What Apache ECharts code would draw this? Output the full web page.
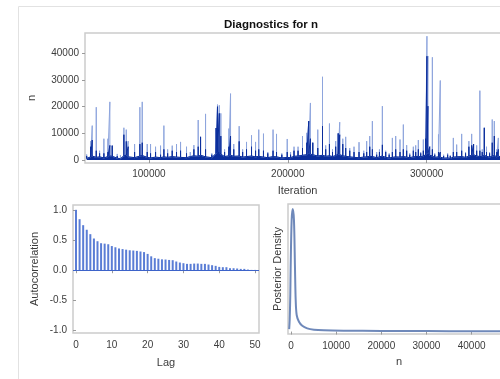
<!DOCTYPE html>
<html>
<head>
<meta charset="utf-8">
<script src="https://cdn.jsdelivr.net/npm/echarts@6/dist/echarts.min.js"></script>
<style>
  html, body { margin: 0; padding: 0; background: #fff; }
  #chart { width: 500px; height: 379px; }
</style>
</head>
<body>
<div id="chart"></div>
<script>
// trace plot: spikes (iteration, top of light line, top of dark body, dense floor)
const spikeIter = [55200, 58100, 59200, 62100, 64500, 67600, 70500, 71900, 73600, 77200, 79500, 82000, 83700, 85100, 89700, 93500, 95200, 98800, 101200, 104800, 108400, 110800, 113500, 116800, 119900, 122800, 127100, 129800, 132400, 135500, 137200, 140800, 145300, 148400, 149400, 150700, 151800, 154500, 157600, 158800, 161100, 165000, 167500, 170300, 173900, 176800, 179100, 182500, 185600, 189400, 191900, 195700, 199600, 202000, 204500, 207400, 210600, 213700, 215100, 216300, 218000, 221600, 225000, 227300, 230000, 232200, 234500, 236300, 237400, 239600, 241700, 244600, 247700, 251300, 254700, 256800, 259000, 260900, 264000, 266000, 268100, 270500, 273000, 275300, 277700, 280800, 283200, 285600, 287800, 290400, 292100, 294000, 295700, 297600, 299300, 300200, 300900, 302200, 304100, 305800, 308500, 309800, 312200, 315100, 317000, 319200, 321600, 325200, 328000, 330400, 332400, 333800, 336000, 338300, 340000, 341500, 343100, 345300, 347200, 348700, 350500, 351600, 355000];
const spikePeak = [2100, 7100, 12900, 19800, 3500, 8000, 8000, 21800, 5400, 2300, 1800, 12100, 11400, 7100, 6000, 19800, 21800, 6000, 6000, 5000, 5400, 12900, 4000, 5400, 6000, 6800, 5000, 3000, 5600, 15000, 8700, 17300, 2500, 12000, 20800, 20500, 17500, 4000, 11800, 24900, 6000, 12700, 4000, 6800, 9300, 6800, 11400, 9900, 3000, 11400, 9800, 2500, 7900, 3000, 5000, 5000, 9000, 10200, 14600, 21400, 6500, 11400, 31200, 5500, 13700, 4000, 7100, 10000, 14200, 8000, 8700, 4500, 5000, 6700, 3500, 7100, 9000, 14600, 3000, 4000, 20200, 3500, 2500, 8300, 9000, 7700, 13300, 5600, 2500, 5000, 5500, 7500, 3000, 7700, 8000, 46400, 39000, 5000, 38500, 2500, 9600, 29800, 2000, 2500, 1800, 8300, 5800, 9800, 3000, 7100, 9800, 6000, 5500, 26000, 4000, 12300, 5000, 3000, 15200, 14600, 4000, 8300, 5000];
const spikeBody = [1500, 5000, 7500, 3500, 2500, 2500, 3000, 5500, 5400, 1500, 1200, 9500, 7000, 5000, 3000, 6000, 6500, 3000, 2500, 3000, 2000, 4000, 2500, 3500, 3000, 3500, 2500, 2000, 4000, 5000, 8700, 4000, 2000, 12000, 20000, 17500, 9000, 3000, 5000, 9000, 4000, 7000, 3000, 4000, 5000, 3500, 4000, 3500, 2500, 3500, 3000, 2000, 3000, 2000, 3500, 3500, 4500, 6500, 14600, 8000, 6500, 4500, 12700, 4000, 6000, 3000, 5000, 10000, 9500, 6000, 4500, 3500, 3000, 3000, 2500, 3000, 5000, 4000, 2000, 3000, 5700, 3000, 2000, 3000, 4000, 3000, 4000, 3500, 2000, 3500, 3000, 4000, 2500, 3500, 8000, 38900, 20200, 5000, 4000, 2000, 3000, 3000, 1500, 2000, 1500, 3000, 3000, 3500, 2500, 5000, 5500, 6000, 3500, 3500, 3000, 12000, 3000, 2500, 6500, 9000, 3000, 4000, 3000];
const spikeBase = [600, 1200, 1500, 1000, 1200, 800, 1300, 1500, 1400, 700, 500, 1600, 1800, 1200, 900, 1500, 1700, 1000, 800, 1100, 900, 1200, 1000, 1300, 1100, 1000, 900, 1300, 1600, 1400, 1800, 1200, 900, 2500, 3000, 3000, 2200, 1300, 1600, 1800, 1400, 1500, 1100, 1300, 1500, 1200, 1400, 1100, 900, 1300, 1200, 800, 1000, 900, 1400, 1500, 1800, 2000, 2400, 2200, 2000, 1500, 1800, 1400, 1600, 1300, 1700, 2200, 2000, 1600, 1400, 1200, 1000, 900, 1100, 1200, 1400, 1300, 900, 1200, 1500, 1000, 800, 1000, 1200, 1100, 1300, 1100, 900, 1200, 1300, 1400, 1200, 1500, 2000, 2500, 2500, 1800, 1500, 1000, 1200, 1100, 700, 800, 600, 1100, 1200, 1300, 1000, 1500, 1800, 2000, 1500, 1300, 1400, 1800, 1400, 1100, 1500, 1700, 1200, 1400, 1200];
const traceTicks = [100000, 200000, 300000];
const nTicks = [0, 10000, 20000, 30000, 40000];

// autocorrelation by lag
const acfLag = [0, 1, 2, 3, 4, 5, 6, 7, 8, 9, 10, 11, 12, 13, 14, 15, 16, 17, 18, 19, 20, 21, 22, 23, 24, 25, 26, 27, 28, 29, 30, 31, 32, 33, 34, 35, 36, 37, 38, 39, 40, 41, 42, 43, 44, 45, 46, 47, 48, 49, 50];
const acfValues = [1.0, 0.845, 0.746, 0.67, 0.597, 0.525, 0.48, 0.447, 0.44, 0.43, 0.40, 0.38, 0.36, 0.35, 0.34, 0.33, 0.326, 0.32, 0.31, 0.30, 0.27, 0.23, 0.20, 0.19, 0.18, 0.177, 0.17, 0.166, 0.144, 0.127, 0.116, 0.105, 0.105, 0.11, 0.11, 0.105, 0.105, 0.094, 0.083, 0.072, 0.055, 0.05, 0.05, 0.033, 0.033, 0.028, 0.022, 0.022, 0.011, 0.005, 0.005];
const lagTicks = [0, 10, 20, 30, 40, 50];
const acfTicks = [-1, -0.5, 0, 0.5, 1];

// posterior density of n
const densityN = [-400, -290, -150, -70, 150, 380, 660, 880, 1040, 1260, 1770, 2500, 3600, 5090, 7300, 11700, 20000, 30000, 40000, 48500];
const densityValues = [0.02, 0.09, 0.3, 0.53, 0.91, 1.0, 0.91, 0.53, 0.26, 0.135, 0.08, 0.047, 0.026, 0.015, 0.01, 0.007, 0.005, 0.004, 0.003, 0.003];
const densityTicks = [0, 10000, 20000, 30000, 40000];

const lightTrace = [];
const darkTrace = [];
spikeIter.forEach((it, i) => {
  lightTrace.push([it, spikeBase[i]], [it, spikePeak[i]], [it, spikeBase[i]]);
  darkTrace.push([it, spikeBase[i]], [it, spikeBody[i]], [it, spikeBase[i]]);
});

const font = "Liberation Sans, Arial, sans-serif";
const labelStyle = { color: "#3c3c3c", fontSize: 10, fontFamily: font };
const nameStyle = { color: "#3c3c3c", fontSize: 11, fontFamily: font };
const tick = { show: true, length: 3, lineStyle: { color: "#9a9a9a" } };
const frame = { show: true, borderColor: "#cccccc", borderWidth: 1.5, outerBoundsMode: "none" };

const chart = echarts.init(document.getElementById("chart"));

const option = {
  animation: false,
  backgroundColor: "#fff",
  title: {
    text: "Diagnostics for n",
    left: 219,
    top: 14,
    textStyle: { fontSize: 11.5, fontWeight: "bold", color: "#111", fontFamily: font },
  },
  graphic: [
    {
      type: "rect",
      silent: true,
      shape: { x: 18.5, y: 6.5, width: 600, height: 600 },
      style: { fill: "none", stroke: "#e2e2e2", lineWidth: 1 },
    },
  ],
  grid: [
    { left: 85, top: 33, width: 425, height: 130, ...frame },
    { left: 73, top: 205, width: 186, height: 128, ...frame },
    { left: 288, top: 204, width: 222, height: 130, ...frame },
  ],
  xAxis: [
    {
      gridIndex: 0,
      type: "value",
      min: 54000,
      max: 360000,
      name: "Iteration",
      nameLocation: "middle",
      nameGap: 22,
      nameTextStyle: nameStyle,
      axisLine: { show: false },
      axisTick: { ...tick, customValues: traceTicks },
      axisLabel: { ...labelStyle, customValues: traceTicks, formatter: (v) => String(v), margin: 6 },
      splitLine: { show: false },
    },
    {
      gridIndex: 1,
      type: "value",
      min: -0.84,
      max: 51.1,
      name: "Lag",
      nameLocation: "middle",
      nameGap: 24,
      nameTextStyle: nameStyle,
      axisLine: { show: false },
      axisTick: { ...tick, customValues: lagTicks },
      axisLabel: { ...labelStyle, customValues: lagTicks, formatter: (v) => String(v), margin: 7 },
      splitLine: { show: false },
    },
    {
      gridIndex: 2,
      type: "value",
      min: -660,
      max: 48500,
      name: "n",
      nameLocation: "middle",
      nameGap: 22,
      nameTextStyle: nameStyle,
      axisLine: { show: false },
      axisTick: { ...tick, customValues: densityTicks },
      axisLabel: { ...labelStyle, customValues: densityTicks, formatter: (v) => String(v), margin: 7 },
      splitLine: { show: false },
    },
  ],
  yAxis: [
    {
      gridIndex: 0,
      type: "value",
      min: -1100,
      max: 47600,
      name: "n",
      nameLocation: "middle",
      nameGap: 48,
      nameRotate: 90,
      nameTextStyle: nameStyle,
      axisLine: { show: false },
      axisTick: { ...tick, customValues: nTicks },
      axisLabel: { ...labelStyle, customValues: nTicks, formatter: (v) => String(v), margin: 6 },
      splitLine: { show: false },
    },
    {
      gridIndex: 1,
      type: "value",
      min: -1.04,
      max: 1.08,
      name: "Autocorrelation",
      nameLocation: "middle",
      nameGap: 33,
      nameRotate: 90,
      nameTextStyle: nameStyle,
      axisLine: { show: false },
      axisTick: { ...tick, customValues: acfTicks },
      axisLabel: { ...labelStyle, customValues: acfTicks, formatter: (v) => v.toFixed(1), margin: 6 },
      splitLine: { show: false },
    },
    {
      gridIndex: 2,
      type: "value",
      min: -0.02,
      max: 1.04,
      name: "Posterior Density",
      nameLocation: "middle",
      nameGap: 5,
      nameRotate: 90,
      nameTextStyle: nameStyle,
      axisLine: { show: false },
      axisTick: { show: false },
      axisLabel: { show: false },
      splitLine: { show: false },
    },
  ],
  series: [
    {
      type: "line",
      xAxisIndex: 0,
      yAxisIndex: 0,
      data: lightTrace,
      symbol: "none",
      lineStyle: { color: "#8ea5dd", width: 1 },
    },
    {
      type: "line",
      xAxisIndex: 0,
      yAxisIndex: 0,
      data: darkTrace,
      symbol: "none",
      lineStyle: { color: "#0b2e9c", width: 1 },
      areaStyle: { color: "#0b2e9c", opacity: 1, origin: 0 },
    },
    {
      type: "bar",
      xAxisIndex: 1,
      yAxisIndex: 1,
      data: acfLag.map((lag, i) => [lag, acfValues[i]]),
      barWidth: 2,
      itemStyle: { color: "#5a7dd5" },
      markLine: {
        silent: true,
        symbol: "none",
        label: { show: false },
        lineStyle: { color: "#3d63c9", width: 1, type: "solid" },
        data: [{ yAxis: 0 }],
      },
    },
    {
      type: "line",
      xAxisIndex: 2,
      yAxisIndex: 2,
      data: densityN.map((n, i) => [n, densityValues[i]]),
      symbol: "none",
      smooth: 0.3,
      lineStyle: { color: "#6f89ba", width: 2 },
    },
  ],
};

chart.setOption(option);
</script>
</body>
</html>
